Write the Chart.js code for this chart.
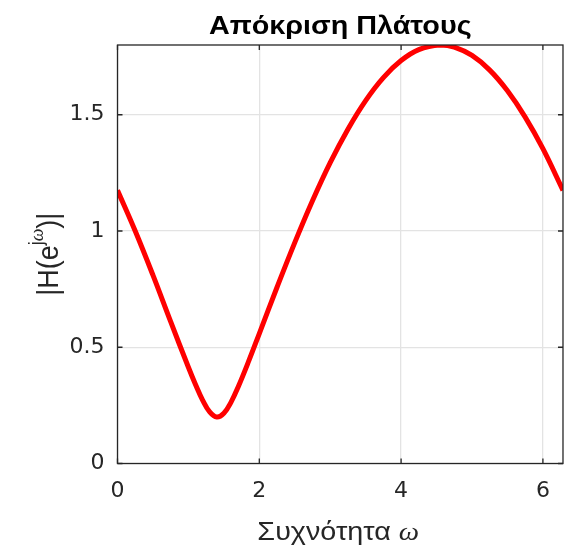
<!DOCTYPE html>
<html>
<head>
<meta charset="utf-8">
<script src="https://cdn.jsdelivr.net/npm/chart.js@4"></script>
<style>
  html, body { margin: 0; padding: 0; background: #fff; }
  #wrap { width: 565px; height: 552px; }
</style>
</head>
<body>
<div id="wrap"><canvas id="ampChart" width="565" height="552"></canvas></div>
<script>
// frequency samples (rad) and magnitude |H(e^jw)|
const omega = [0, 0.25, 0.5, 0.75, 1.0, 1.1, 1.2, 1.3, 1.4, 1.5, 1.6, 1.7, 1.85, 2.0, 2.25, 2.5, 2.75,
  3.0, 3.25, 3.5, 3.75, 4.0, 4.25, 4.55, 4.75, 5.0, 5.25, 5.5, 5.75, 6.0, 6.283];
const magnitude = [1.175, 1.00, 0.81, 0.61, 0.414, 0.34, 0.273, 0.222, 0.20, 0.216, 0.263, 0.328, 0.44, 0.559, 0.758, 0.95, 1.13,
  1.294, 1.438, 1.561, 1.66, 1.733, 1.78, 1.80, 1.791, 1.755, 1.692, 1.603, 1.49, 1.354, 1.175];
const xTicks = [0, 2, 4, 6];
const yTicks = [0, 0.5, 1, 1.5];

const axisColor = '#262626';
const sx = 1.15; // wide lettering for the titles

// box, inward tick marks, titles
const decorations = {
  id: 'decorations',
  afterDraw(chart) {
    const { ctx, chartArea: a, scales } = chart;
    ctx.save();
    ctx.strokeStyle = axisColor;
    ctx.lineWidth = 1.3;
    ctx.strokeRect(a.left, a.top, a.right - a.left, a.bottom - a.top);
    ctx.beginPath();
    xTicks.forEach(v => {
      const px = scales.x.getPixelForValue(v);
      ctx.moveTo(px, a.bottom); ctx.lineTo(px, a.bottom - 5);
      ctx.moveTo(px, a.top); ctx.lineTo(px, a.top + 5);
    });
    yTicks.forEach(v => {
      const py = scales.y.getPixelForValue(v);
      ctx.moveTo(a.left, py); ctx.lineTo(a.left + 5, py);
      ctx.moveTo(a.right, py); ctx.lineTo(a.right - 5, py);
    });
    ctx.stroke();

    ctx.fillStyle = '#000';
    ctx.textBaseline = 'alphabetic';
    // title
    ctx.save();
    ctx.translate((a.left + a.right) / 2, 34);
    ctx.scale(sx, 1);
    ctx.font = 'bold 25px "Liberation Sans", Arial, sans-serif';
    ctx.textAlign = 'center';
    ctx.fillText('Απόκριση Πλάτους', 0, 0);
    ctx.restore();

    // x label with italic omega
    ctx.fillStyle = axisColor;
    ctx.save();
    const f1 = '25px "Liberation Sans", Arial, sans-serif';
    const f2 = 'italic 25px "Liberation Serif", "Times New Roman", serif';
    ctx.font = f1;
    const w1 = ctx.measureText('Συχνότητα ').width;
    ctx.font = f2;
    const w2 = ctx.measureText('ω').width;
    ctx.translate((a.left + a.right) / 2 - 2, 540);
    ctx.scale(sx, 1);
    ctx.textAlign = 'left';
    ctx.font = f1;
    ctx.fillText('Συχνότητα ', -(w1 + w2) / 2, 0);
    ctx.font = f2;
    ctx.fillText('ω', -(w1 + w2) / 2 + w1, 0);
    ctx.restore();

    // y label |H(e^jw)| rotated
    ctx.save();
    const big = '27px "Liberation Sans", Arial, sans-serif';
    const small = '18px "Liberation Sans", Arial, sans-serif';
    const smallIt = 'italic 18px "Liberation Serif", serif';
    ctx.font = big;
    const p1 = ctx.measureText('|H(e').width;
    ctx.font = small;
    const p2 = ctx.measureText('j').width;
    ctx.font = smallIt;
    const p3 = ctx.measureText('ω').width;
    ctx.font = big;
    const p4 = ctx.measureText(')|').width;
    const total = p1 + p2 + p3 + p4;
    ctx.translate(58, (a.top + a.bottom) / 2);
    ctx.rotate(-Math.PI / 2);
    ctx.scale(1, 1.1);
    ctx.textAlign = 'left';
    let x0 = -total / 2;
    ctx.font = big; ctx.fillText('|H(e', x0, 0); x0 += p1;
    ctx.font = small; ctx.fillText('j', x0, -14); x0 += p2;
    ctx.font = smallIt; ctx.fillText('ω', x0, -14); x0 += p3;
    ctx.font = big; ctx.fillText(')|', x0, 0);
    ctx.restore();

    ctx.restore();
  }
};

new Chart(document.getElementById('ampChart'), {
  type: 'line',
  data: {
    datasets: [{
      data: omega.map((w, i) => ({ x: w, y: magnitude[i] })),
      borderColor: '#ff0000',
      borderWidth: 5,
      pointRadius: 0,
      tension: 0.4,
      fill: false
    }]
  },
  options: {
    responsive: false,
    animation: false,
    layout: { padding: { top: 45, right: 2, left: 0, bottom: 0 } },
    plugins: { legend: { display: false }, tooltip: { enabled: false }, title: { display: false } },
    scales: {
      x: {
        type: 'linear',
        min: 0,
        max: 2 * Math.PI,
        afterBuildTicks: s => { s.ticks = xTicks.map(v => ({ value: v })); },
        afterFit: s => { s.height = 88.5; },
        grid: { color: '#e3e3e3', lineWidth: 1.3, drawTicks: false },
        border: { display: false },
        ticks: { color: axisColor, padding: 15, font: { family: 'DejaVu Sans', size: 22 }, callback: v => String(v) }
      },
      y: {
        min: 0,
        max: 1.8,
        afterBuildTicks: s => { s.ticks = yTicks.map(v => ({ value: v })); },
        afterFit: s => { s.width = 117.5; },
        grid: { color: '#e3e3e3', lineWidth: 1.3, drawTicks: false },
        border: { display: false },
        ticks: { color: axisColor, padding: 13, font: { family: 'DejaVu Sans', size: 22 }, callback: v => String(v) }
      }
    }
  },
  plugins: [decorations]
});
</script>
</body>
</html>
